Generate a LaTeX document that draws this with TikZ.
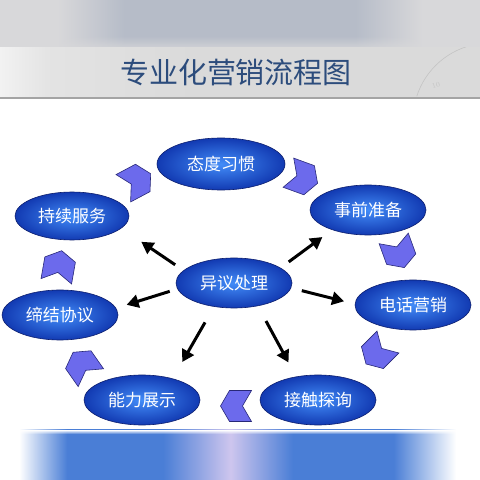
\documentclass[tikz,border=0pt]{standalone}
\usepackage{fontspec}
\newfontfamily\cjk{Noto Sans CJK SC}
\usepackage{tikz}
\usetikzlibrary{arrows.meta,shapes.geometric,fadings}

\definecolor{ballin}{RGB}{66,140,248}
\definecolor{ballout}{RGB}{18,58,178}
\definecolor{ballrim}{RGB}{12,30,110}
\definecolor{chevfill}{RGB}{108,106,236}
\definecolor{chevrim}{RGB}{40,40,120}
\definecolor{titleblue}{RGB}{44,76,124}
\definecolor{bandgray}{RGB}{216,216,218}
\definecolor{blobgray}{RGB}{182,188,200}
\definecolor{titlelight}{RGB}{242,242,242}
\definecolor{titlegray}{RGB}{218,218,218}
\definecolor{linegray}{RGB}{164,164,164}
\definecolor{clockgray}{RGB}{196,196,196}
\definecolor{bandblue}{RGB}{74,126,214}
\definecolor{lavender}{RGB}{206,198,238}

\pgfdeclarehorizontalshading{topband}{100bp}{color(0bp)=(bandgray); color(25bp)=(bandgray); color(31bp)=(bandgray); color(38bp)=(blobgray); color(62bp)=(blobgray); color(69bp)=(bandgray); color(100bp)=(bandgray)}
\pgfdeclarehorizontalshading{titleband}{100bp}{color(0bp)=(titlelight); color(25bp)=(titlelight); color(30bp)=(titlegray!60!titlelight); color(45bp)=(titlegray); color(100bp)=(titlegray)}
\pgfdeclarehorizontalshading{bottomband}{100bp}{color(0bp)=(white); color(25bp)=(white); color(27bp)=(white); color(32bp)=(bandblue); color(42bp)=(bandblue); color(49bp)=(lavender); color(55.5bp)=(bandblue); color(66bp)=(bandblue); color(72.5bp)=(white); color(100bp)=(white)}

\begin{document}
\begin{tikzpicture}[x=1pt,y=1pt,
  ball/.style={ellipse,draw=ballrim,line width=0.6pt,inner color=ballin,outer color=ballout,
    minimum width=116pt,minimum height=50pt,inner sep=0pt,text=white,font=\cjk\fontsize{17}{17}\selectfont},
  link/.style={-{Triangle[length=12pt,width=13pt]},line width=3pt},
  chevron/.pic={\filldraw[fill=chevfill,draw=chevrim,line width=0.6pt]
    (-15.5,15.5) -- (6.5,15.5) -- (15.5,0) -- (6.5,-15.5) -- (-15.5,-15.5) -- (-6.5,0) -- cycle;}]

\useasboundingbox (0,0) rectangle (480,480);

\fill[white] (0,0) rectangle (480,480);
\shade[shading=topband] (0,432) rectangle (480,480);
\fill[bandgray,path fading=north] (0,428) rectangle (480,444);
\shade[shading=titleband] (0,383) rectangle (480,432);
\begin{scope}
\clip (0,383) rectangle (480,432);
\draw[clockgray,line width=0.6pt] (490,360) ++(162:77) arc[start angle=162,end angle=100,radius=77];
\node[text=clockgray,font=\fontsize{7}{7}\selectfont,rotate=15] (ten) at (436,395) {10};
\end{scope}
\draw[linegray,line width=2.5pt] (0,382) -- (480,382);
\shade[shading=bottomband] (0,0) rectangle (480,50);
\fill[white,path fading=south] (0,46) rectangle (480,50);

\node[text=titleblue,font=\cjk\fontsize{29}{29}\selectfont] (title) at (236,408) {专业化营销流程图};

\node[ball,minimum width=128pt,minimum height=52pt] (taidu) at (221,316) {态度习惯};
\node[ball] (shiqian) at (368,270) {事前准备};
\node[ball] (dianhua) at (413,175) {电话营销};
\node[ball] (jiechu) at (318,80) {接触探询};
\node[ball] (nengli) at (142,80) {能力展示};
\node[ball] (dijie) at (60,165) {缔结协议};
\node[ball,minimum width=114pt,minimum height=48pt] (chixu) at (72,264) {持续服务};
\node[ball] (yiyi) at (234,197) {异议处理};

\draw[link,shorten <=10pt,shorten >=24pt] (yiyi.166) -- (chixu.-14);
\draw[link,shorten <=8pt,shorten >=11pt] (yiyi.186) -- (dijie.7);
\draw[link,shorten <=18pt,shorten >=19pt] (yiyi.230) -- (nengli.35);
\draw[link,shorten <=17pt,shorten >=16pt] (yiyi.-44) -- (jiechu.133);
\draw[link,shorten <=11pt,shorten >=11pt] (yiyi.-5) -- (dianhua.179);
\draw[link,shorten <=10pt,shorten >=12pt] (yiyi.18) -- (shiqian.209);

\pic[rotate=28] at (137,299) {chevron};
\pic[rotate=-20] at (303,302) {chevron};
\pic[rotate=-70] at (399,227) {chevron};
\pic[rotate=-135] at (377,127) {chevron};
\pic[rotate=180] at (236,74) {chevron};
\pic[rotate=125] at (82,115) {chevron};
\pic[rotate=80] at (59,214) {chevron};

\end{tikzpicture}
\end{document}
